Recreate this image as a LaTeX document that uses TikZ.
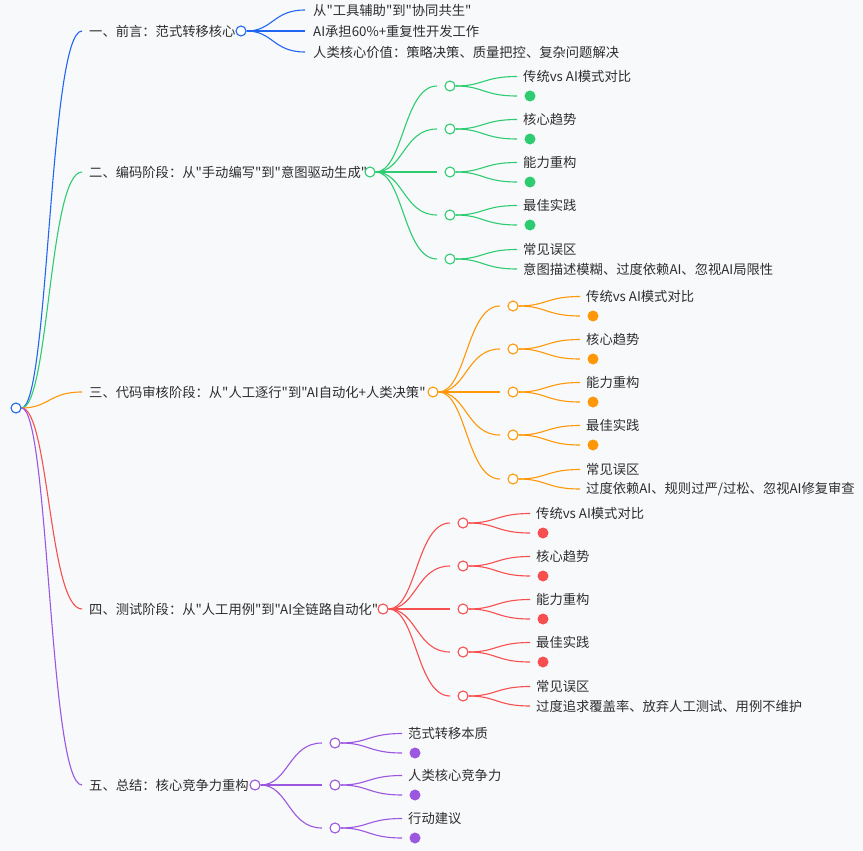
\documentclass[tikz,border=0pt]{standalone}
\usepackage{xcolor}
\usepackage{fontspec}
\newfontfamily\cjk{Noto Sans CJK SC}
\usepackage{tikz}
\usetikzlibrary{calc}

\definecolor{paper}{HTML}{F8F9FB}
\definecolor{cBlue}{HTML}{2166F3}
\definecolor{cGreen}{HTML}{2ECC71}
\definecolor{cOrange}{HTML}{FF9808}
\definecolor{cRed}{HTML}{F74F4F}
\definecolor{cPurple}{HTML}{9B57E0}

\pgfdeclarelayer{bg}
\pgfsetlayers{bg,main}

\tikzset{
  link/.style={line width=1.1pt, to path={let \p1=(\tikztostart), \p2=(\tikztotarget) in
      .. controls ({(\x1+\x2)/2},\y1) and ({(\x1+\x2)/2},\y2) .. (\tikztotarget)}},
  hub/.style={circle, draw, fill=white, line width=1.1pt, inner sep=0pt, minimum size=10pt},
  dot/.style={circle, fill, inner sep=0pt, minimum size=11pt},
  txt/.style={anchor=west, inner sep=0pt, text=black!82, font=\cjk\fontsize{13.3}{16}\selectfont},
}

\begin{document}
\begin{tikzpicture}[x=1pt,y=-1pt]
\begin{pgfonlayer}{bg}\fill[paper] (0,0) rectangle (863,851);\end{pgfonlayer}
\useasboundingbox (0,0) rectangle (863,851);

\node[hub, draw=cBlue] (root) at (16,408) {};

% 一、前言
\coordinate (e1) at (82,31);
\node[txt] (t1) at (89,31) {一、前言：范式转移核心};
\node[hub, draw=cBlue] (h1) at (241,31) {};
\begin{pgfonlayer}{bg}\draw[link, cBlue] (root) to (e1);\end{pgfonlayer}
\foreach \k/\cy/\s in {1/10/{从"工具辅助"到"协同共生"}, 2/31/{AI承担60\%+重复性开发工作}, 3/52/{人类核心价值：策略决策、质量把控、复杂问题解决}}{
  \coordinate (e1\k) at (305,\cy);
  \node[txt] (t1\k) at (313,\cy) {\s};
  \begin{pgfonlayer}{bg}\draw[link, cBlue] (h1) to (e1\k);\end{pgfonlayer}
}

% 二、三、四：编码 / 审核 / 测试
\foreach \b/\col/\by/\hx/\tit/\mis in {
    2/cGreen/172/370/{二、编码阶段：从"手动编写"到"意图驱动生成"}/{意图描述模糊、过度依赖AI、忽视AI局限性},
    3/cOrange/392/433/{三、代码审核阶段：从"人工逐行"到"AI自动化+人类决策"}/{过度依赖AI、规则过严/过松、忽视AI修复审查},
    4/cRed/609/383/{四、测试阶段：从"人工用例"到"AI全链路自动化"}/{过度追求覆盖率、放弃人工测试、用例不维护}}{
  \coordinate (e\b) at (82,\by);
  \node[txt] (t\b) at (89,\by) {\tit};
  \node[hub, draw=\col] (h\b) at (\hx,\by) {};
  \begin{pgfonlayer}{bg}\draw[link, \col] (root) to (e\b);\end{pgfonlayer}
  \foreach \k/\dy/\s in {1/-86/{传统vs AI模式对比}, 2/-43/核心趋势, 3/0/能力重构, 4/43/最佳实践, 5/87/常见误区}{
    \coordinate (e\b\k) at (\hx+67,\by+\dy);
    \node[hub, draw=\col] (h\b\k) at (\hx+80,\by+\dy) {};
    \coordinate (u\b\k) at (\hx+147,\by+\dy-9.5);
    \coordinate (v\b\k) at (\hx+147,\by+\dy+10);
    \node[txt] (t\b\k) at (\hx+153,\by+\dy-9.5) {\s};
    \ifnum\k<5
      \node[dot, fill=\col] (d\b\k) at (\hx+160,\by+\dy+10) {};
    \else
      \node[txt] (d\b\k) at (\hx+153,\by+\dy+10) {\mis};
    \fi
    \begin{pgfonlayer}{bg}
      \draw[link, \col] (h\b) to (e\b\k);
      \draw[link, \col] (h\b\k) to (u\b\k);
      \draw[link, \col] (h\b\k) to (v\b\k);
    \end{pgfonlayer}
  }
}

% 五、总结
\coordinate (e5) at (82,785);
\node[txt] (t5) at (89,785) {五、总结：核心竞争力重构};
\node[hub, draw=cPurple] (h5) at (255,785) {};
\begin{pgfonlayer}{bg}\draw[link, cPurple] (root) to (e5);\end{pgfonlayer}
\foreach \k/\dy/\s in {1/-42/范式转移本质, 2/0/人类核心竞争力, 3/43/行动建议}{
  \coordinate (e5\k) at (322,785+\dy);
  \node[hub, draw=cPurple] (h5\k) at (335,785+\dy) {};
  \coordinate (u5\k) at (402,785+\dy-9.5);
  \coordinate (v5\k) at (402,785+\dy+10);
  \node[txt] (t5\k) at (408,785+\dy-9.5) {\s};
  \node[dot, fill=cPurple] (d5\k) at (415,785+\dy+10) {};
  \begin{pgfonlayer}{bg}
    \draw[link, cPurple] (h5) to (e5\k);
    \draw[link, cPurple] (h5\k) to (u5\k);
    \draw[link, cPurple] (h5\k) to (v5\k);
  \end{pgfonlayer}
}
\end{tikzpicture}
\end{document}
